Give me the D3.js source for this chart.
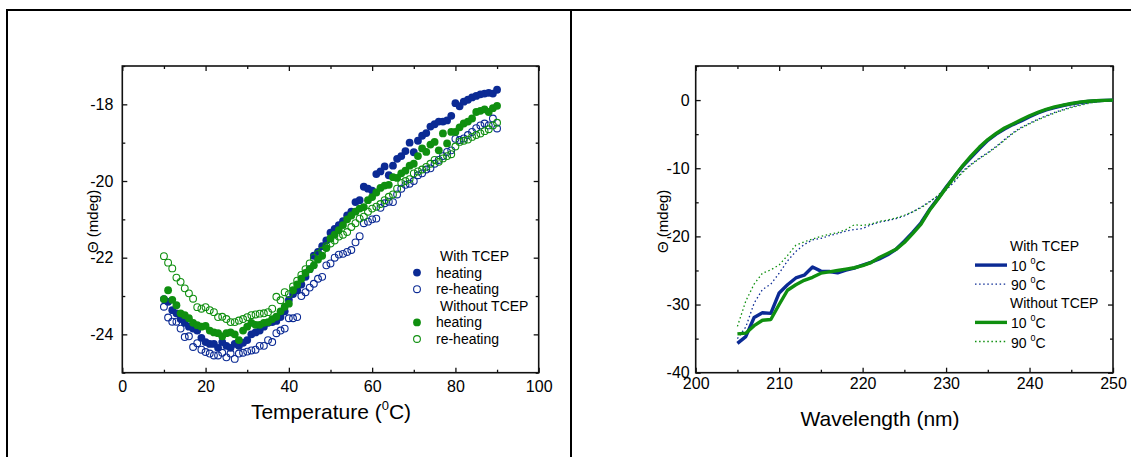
<!DOCTYPE html>
<html>
<head>
<meta charset="utf-8">
<script src="https://cdn.jsdelivr.net/npm/d3@7"></script>
<style>
  body { margin: 0; background: #fff; }
  svg { display: block; font-family: "Liberation Sans", Arial, sans-serif; }
</style>
</head>
<body>
<svg id="drawing_region" width="1131" height="457"></svg>
<script>
// ---- left panel: thermal melt, temperature in degC
const temps = [10,11,12,13,14,15,16,17,18,19,20,21,22,23,24,25,26,27,28,29,30,
  31,32,33,34,35,36,37,38,39,40,41,42,43,44,45,46,47,48,49,50,
  51,52,53,54,55,56,57,58,59,60,61,62,63,64,65,66,67,68,69,70,
  71,72,73,74,75,76,77,78,79,80,81,82,83,84,85,86,87,88,89,90];

const withHeating = [-23.08,-23.15,-23.37,-23.45,-23.6,-23.7,-23.8,-23.85,-23.9,-24.09,-24.2,
  -24.25,-24.25,-24.35,-24.2,-24.3,-24.35,-24.25,-24.3,-24.22,-24.15,
  -24.0,-23.95,-23.9,-23.8,-23.7,-23.68,-23.65,-23.55,-23.4,-23.1,
  -22.95,-22.85,-22.7,-22.5,-22.3,-21.95,-21.85,-21.7,-21.55,-21.35,
  -21.25,-21.15,-21.05,-20.9,-20.8,-20.55,-20.5,-20.15,-20.2,-20.25,
  -19.82,-19.75,-19.62,-19.85,-19.6,-19.42,-19.35,-19.22,-19.0,-19.25,
  -18.95,-18.82,-18.75,-18.58,-18.52,-18.45,-18.45,-18.42,-18.3,-17.97,
  -18.05,-17.93,-17.88,-17.82,-17.78,-17.74,-17.72,-17.7,-17.72,-17.62];

const withReheating = [-23.28,-23.56,-23.67,-23.67,-23.85,-24.07,-24.05,-24.33,-24.23,-24.4,-24.46,
  -24.5,-24.55,-24.55,-24.48,-24.6,-24.5,-24.64,-24.5,-24.48,-24.45,
  -24.42,-24.4,-24.3,-24.3,-24.15,-24.2,-23.97,-23.9,-23.85,-23.58,
  -23.58,-23.55,-23.0,-22.9,-22.78,-22.68,-22.55,-22.5,-22.2,-22.15,
  -22.0,-21.92,-21.9,-21.85,-21.8,-21.6,-21.44,-21.1,-21.06,-21.0,
  -20.98,-20.7,-20.58,-20.54,-20.55,-20.35,-20.2,-20.1,-20.07,-20.0,
  -19.85,-19.8,-19.7,-19.67,-19.55,-19.45,-19.35,-19.24,-19.2,-18.9,
  -18.93,-18.89,-18.8,-18.72,-18.62,-18.55,-18.5,-18.55,-18.37,-18.63];

const withoutHeating = [-23.08,-22.85,-23.1,-23.24,-23.45,-23.5,-23.58,-23.7,-23.76,-23.8,-23.78,
  -23.9,-23.95,-23.97,-24.05,-23.97,-23.95,-24.0,-24.15,-23.9,-23.8,
  -23.7,-23.75,-23.75,-23.7,-23.68,-23.6,-23.54,-23.4,-23.28,-23.2,
  -22.85,-22.7,-22.55,-22.4,-22.3,-22.2,-22.05,-21.95,-21.75,-21.5,
  -21.4,-21.28,-21.15,-21.0,-20.9,-20.8,-20.72,-20.68,-20.5,-20.42,
  -20.3,-20.18,-20.12,-20.1,-19.9,-19.92,-19.8,-19.73,-19.6,-19.55,
  -19.35,-19.15,-19.24,-19.05,-18.98,-19.2,-18.76,-19.02,-18.72,-18.72,
  -18.6,-18.5,-18.45,-18.37,-18.2,-18.17,-18.13,-18.2,-18.1,-18.04];

const withoutReheating = [-21.96,-22.13,-22.28,-22.52,-22.63,-22.8,-22.93,-23.07,-23.29,-23.33,-23.29,
  -23.37,-23.42,-23.55,-23.54,-23.6,-23.68,-23.68,-23.64,-23.6,-23.55,
  -23.5,-23.48,-23.46,-23.45,-23.42,-23.33,-23.02,-23.11,-22.9,-22.95,
  -22.75,-22.6,-22.45,-22.3,-22.15,-22.0,-21.9,-21.82,-21.7,-21.63,
  -21.55,-21.45,-21.4,-21.33,-21.2,-21.1,-20.98,-20.93,-20.8,-20.72,
  -20.67,-20.6,-20.5,-20.41,-20.35,-20.2,-20.05,-20.0,-19.95,-19.8,
  -19.75,-19.7,-19.63,-19.55,-19.45,-19.5,-19.41,-19.35,-19.3,-19.1,
  -18.98,-18.95,-18.92,-18.85,-18.8,-18.76,-18.7,-18.65,-18.55,-18.48];

const tempTicks = [0, 20, 40, 60, 80, 100];
const tempMinor = [10, 30, 50, 70, 90];
const meltTicks = [-24, -22, -20, -18];
const meltMinor = [-25, -23, -21, -19, -17];

// ---- right panel: CD spectra
const wavelengths = [205,206,207,208,209,210,211,212,213,214,215,216,217,218,219,220,
  221,222,223,224,225,226,227,228,229,230,231,232,233,234,235,236,237,238,239,240,
  241,242,243,244,245,246,247,248,249,250];

const with10 = [-35.7,-34.7,-31.9,-31.2,-31.3,-28.3,-27.1,-26.1,-25.7,-24.5,-25.1,-25.15,-25.35,-24.95,-24.65,-24.2,
  -23.8,-23.3,-22.7,-21.9,-20.7,-19.4,-18.0,-16.1,-14.5,-12.8,-11.2,-9.7,-8.4,-7.1,-5.9,-5.0,-4.25,-3.6,-3.05,-2.45,
  -1.9,-1.45,-1.1,-0.8,-0.55,-0.35,-0.2,-0.1,-0.05,0];

const with90 = [-35.0,-33.3,-29.8,-27.8,-27.0,-25.4,-23.6,-22.2,-21.2,-20.5,-20.3,-19.9,-19.6,-19.2,-19.0,-18.85,
  -18.3,-17.9,-17.7,-17.4,-17.0,-16.4,-15.7,-14.9,-14.1,-13.2,-12.0,-10.4,-9.4,-8.5,-7.7,-6.8,-5.8,-4.8,-4.0,-3.4,
  -2.8,-2.3,-1.8,-1.4,-1.0,-0.7,-0.45,-0.25,-0.1,0];

const without10 = [-34.3,-34.2,-33.1,-32.3,-32.2,-30.0,-27.9,-27.1,-26.45,-26.0,-25.4,-25.2,-25.0,-24.8,-24.6,-24.3,
  -23.85,-23.1,-22.5,-21.9,-20.9,-19.6,-18.2,-16.2,-14.6,-12.9,-11.2,-9.6,-8.2,-6.9,-5.8,-4.9,-4.1,-3.5,-2.9,-2.3,
  -1.8,-1.35,-1.0,-0.75,-0.5,-0.3,-0.18,-0.1,-0.04,0];

const without90 = [-33.2,-29.5,-27.0,-25.4,-24.9,-24.2,-22.8,-21.3,-20.8,-20.4,-20.0,-19.7,-19.45,-19.0,-18.3,-18.4,
  -18.2,-17.8,-17.6,-17.3,-16.9,-16.4,-15.8,-15.0,-14.0,-12.8,-11.8,-10.6,-9.5,-8.6,-7.8,-6.9,-5.9,-4.9,-4.1,-3.5,
  -2.9,-2.4,-1.9,-1.5,-1.1,-0.8,-0.5,-0.3,-0.12,0];

const wlTicks = [200, 210, 220, 230, 240, 250];
const wlMinor = [205, 215, 225, 235, 245];
const cdTicks = [-40, -30, -20, -10, 0];
const cdMinor = [-35, -25, -15, -5, 5];

const BLUE = '#0b2a94';
const GREEN = '#0f8f0f';

const svg = d3.select('#drawing_region');

// outer frame and divider
svg.append('path')
  .attr('d', 'M7,457 V10 H1131 M571,10 V457')
  .attr('fill', 'none')
  .attr('stroke', '#000')
  .attr('stroke-width', 2);

function drawFrame(g, xscale, yscale, xt, xm, yt, ym, o) {
  const w = xscale.range()[1], h = yscale.range()[0];
  const plain = d => String(d);   // hyphen minus like the original

  g.append('g').attr('transform', `translate(0,${h})`)
    .call(d3.axisBottom(xscale).tickValues(xt).tickSizeInner(-5).tickSizeOuter(0).tickPadding(o.xpad).tickFormat(plain));
  g.append('g').attr('transform', `translate(0,${h})`)
    .call(d3.axisBottom(xscale).tickValues(xm).tickSizeInner(-3).tickSizeOuter(0).tickFormat(''));
  g.append('g')
    .call(d3.axisTop(xscale).tickValues(xt).tickSizeInner(-5).tickSizeOuter(0).tickFormat(''));
  g.append('g')
    .call(d3.axisTop(xscale).tickValues(xm).tickSizeInner(-3).tickSizeOuter(0).tickFormat(''));

  g.append('g')
    .call(d3.axisLeft(yscale).tickValues(yt).tickSizeInner(-5).tickSizeOuter(0).tickPadding(o.ypad).tickFormat(plain));
  g.append('g')
    .call(d3.axisLeft(yscale).tickValues(ym).tickSizeInner(-3).tickSizeOuter(0).tickFormat(''));
  g.append('g').attr('transform', `translate(${w},0)`)
    .call(d3.axisRight(yscale).tickValues(yt).tickSizeInner(-5).tickSizeOuter(0).tickFormat(''));
  g.append('g').attr('transform', `translate(${w},0)`)
    .call(d3.axisRight(yscale).tickValues(ym).tickSizeInner(-3).tickSizeOuter(0).tickFormat(''));

  g.selectAll('.domain').remove();
  g.selectAll('.tick line').attr('stroke', '#111').attr('stroke-width', 1.3);
  g.selectAll('.tick text').attr('font-size', 16).attr('fill', '#000')
    .attr('font-family', '"Liberation Sans", Arial, sans-serif');

  g.append('rect')
    .attr('width', w).attr('height', h)
    .attr('fill', 'none').attr('stroke', '#111').attr('stroke-width', 1.6);

  // y label
  g.append('text')
    .attr('transform', `translate(${o.ylabx},${h / 2 + 2}) rotate(-90)`)
    .attr('text-anchor', 'middle')
    .attr('font-size', 15)
    .text('\u0398 (mdeg)');
}

// ============ left panel ============
const L = { left: 122.3, top: 66, width: 416.4, height: 306.7 };
const gl = svg.append('g').attr('transform', `translate(${L.left},${L.top})`);
const xT = d3.scaleLinear().domain([0, 100]).range([0, L.width]);
const yT = d3.scaleLinear().domain([-25, -17]).range([L.height, 0]);

drawFrame(gl, xT, yT, tempTicks, tempMinor, meltTicks, meltMinor, { xpad: 8, ypad: 9, ylabx: -24 });

const melts = [
  { vals: withHeating, color: BLUE, filled: true },
  { vals: withReheating, color: BLUE, filled: false },
  { vals: withoutHeating, color: GREEN, filled: true },
  { vals: withoutReheating, color: GREEN, filled: false }
];

melts.forEach(s => {
  gl.append('g').selectAll('circle')
    .data(temps.map((t, i) => ({ t: t, v: s.vals[i] })))
    .enter().append('circle')
    .attr('cx', d => xT(d.t))
    .attr('cy', d => yT(d.v))
    .attr('r', s.filled ? 3.9 : 3.4)
    .attr('fill', s.filled ? s.color : 'none')
    .attr('stroke', s.color)
    .attr('stroke-width', s.filled ? 0 : 1.1);
});

// x label with superscript
const xlabL = svg.append('text')
  .attr('x', 331).attr('y', 419)
  .attr('text-anchor', 'middle')
  .attr('font-size', 21);
xlabL.append('tspan').text('Temperature (');
xlabL.append('tspan').attr('font-size', 13).attr('dy', -9).text('0');
xlabL.append('tspan').attr('dy', 9).text('C)');

// legend
const legL = [
  { label: 'With TCEP', head: true },
  { label: 'heating', color: BLUE, filled: true },
  { label: 're-heating', color: BLUE, filled: false },
  { label: 'Without TCEP', head: true },
  { label: 'heating', color: GREEN, filled: true },
  { label: 're-heating', color: GREEN, filled: false }
];
const lg = svg.append('g').attr('font-size', 14);
legL.forEach((d, i) => {
  const y = 256 + i * 16.6;
  if (d.head) {
    lg.append('text').attr('x', 440).attr('y', y + 5).text(d.label);
  } else {
    lg.append('circle').attr('cx', 417).attr('cy', y)
      .attr('r', d.filled ? 3.9 : 3.4)
      .attr('fill', d.filled ? d.color : 'none')
      .attr('stroke', d.color).attr('stroke-width', d.filled ? 0 : 1.1);
    lg.append('text').attr('x', 436).attr('y', y + 5).text(d.label);
  }
});

// ============ right panel ============
const R = { left: 695.7, top: 66, width: 417.3, height: 306.7 };
const gr = svg.append('g').attr('transform', `translate(${R.left},${R.top})`);
const xW = d3.scaleLinear().domain([200, 250]).range([0, R.width]);
const yC = d3.scaleLinear().domain([-40, 5]).range([R.height, 0]);

drawFrame(gr, xW, yC, wlTicks, wlMinor, cdTicks, cdMinor, { xpad: 5, ypad: 6, ylabx: -28 });

const spectra = [
  { vals: with10, color: BLUE, solid: true },
  { vals: with90, color: BLUE, solid: false },
  { vals: without10, color: GREEN, solid: true },
  { vals: without90, color: GREEN, solid: false }
];

const line = d3.line()
  .x(d => xW(d.w))
  .y(d => yC(d.v));

spectra.forEach(s => {
  gr.append('path')
    .datum(wavelengths.map((w, i) => ({ w: w, v: s.vals[i] })))
    .attr('d', line)
    .attr('fill', 'none')
    .attr('stroke', s.color)
    .attr('stroke-width', s.solid ? 3.4 : 1.3)
    .attr('stroke-dasharray', s.solid ? null : '1.5,2.6')
    .attr('stroke-linejoin', 'round');
});

svg.append('text')
  .attr('x', 880).attr('y', 426)
  .attr('text-anchor', 'middle')
  .attr('font-size', 21)
  .text('Wavelength (nm)');

const legR = [
  { label: 'With TCEP', head: true },
  { label: '10 ', color: BLUE, solid: true },
  { label: '90 ', color: BLUE, solid: false },
  { label: 'Without TCEP', head: true },
  { label: '10 ', color: GREEN, solid: true },
  { label: '90 ', color: GREEN, solid: false }
];
const rg = svg.append('g').attr('font-size', 14);
legR.forEach((d, i) => {
  const y = 246 + i * 19.1;
  if (d.head) {
    rg.append('text').attr('x', 1010).attr('y', y + 5).text(d.label);
  } else {
    rg.append('line').attr('x1', 975).attr('x2', 1007).attr('y1', y).attr('y2', y)
      .attr('stroke', d.color)
      .attr('stroke-width', d.solid ? 3.4 : 1.3)
      .attr('stroke-dasharray', d.solid ? null : '1.5,2.6');
    const t = rg.append('text').attr('x', 1011).attr('y', y + 6);
    t.append('tspan').text(d.label);
    t.append('tspan').attr('font-size', 9).attr('dy', -7).text('0');
    t.append('tspan').attr('dy', 7).text('C');
  }
});
</script>
</body>
</html>
